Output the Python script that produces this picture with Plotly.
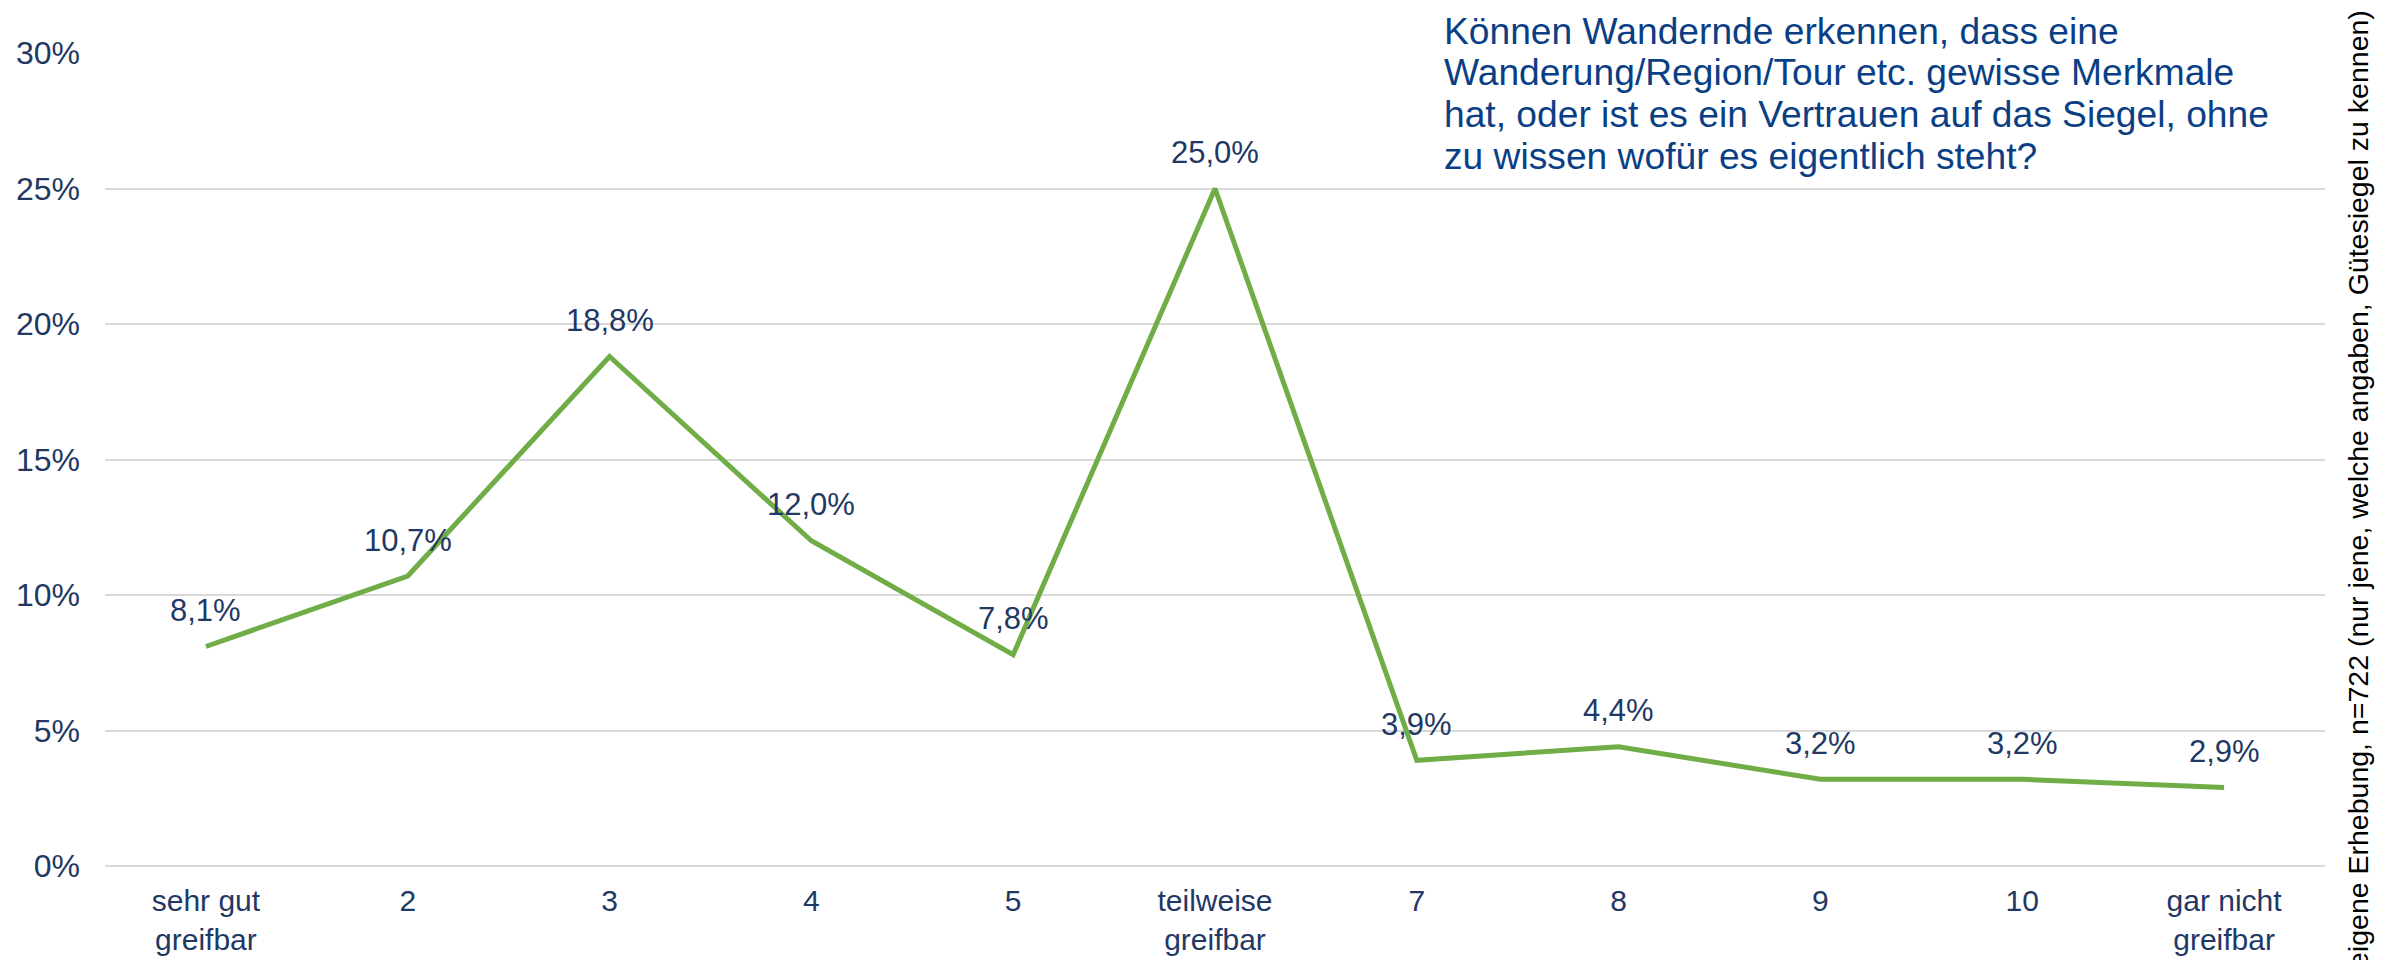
import plotly.graph_objects as go

categories = ["sehr gut<br>greifbar", "2", "3", "4", "5", "teilweise<br>greifbar",
              "7", "8", "9", "10", "gar nicht<br>greifbar"]
values = [8.1, 10.7, 18.8, 12.0, 7.8, 25.0, 3.9, 4.4, 3.2, 3.2, 2.9]
y_ticks = [0, 5, 10, 15, 20, 25, 30]

title_lines = ["Können Wandernde erkennen, dass eine",
               "Wanderung/Region/Tour etc. gewisse Merkmale",
               "hat, oder ist es ein Vertrauen auf das Siegel, ohne",
               "zu wissen wofür es eigentlich steht?"]
source_text = "eigene Erhebung, n=722 (nur jene, welche angaben, Gütesiegel zu kennen)"

W, H = 2399, 960
OFF = 8  # page body margin
L, R, T, B = 97, 82, 45, 102
pw, ph = W - L - R, H - T - B

TEXT = "#1F3864"
FONT = "Liberation Sans, Arial"
idx = list(range(len(categories)))

fig = go.Figure()
fig.add_trace(go.Scatter(
    x=idx, y=values, mode="lines",
    line=dict(color="#70AD47", width=5),
    hoverinfo="skip", showlegend=False,
))

for i, v in zip(idx, values):
    fig.add_annotation(x=i, y=v, text=f"{v:.1f}".replace(".", ",") + "%",
                       showarrow=False, yshift=36,
                       font=dict(size=31, color=TEXT, family=FONT))

def px_x(p):
    return (p - OFF - L) / pw

def px_y(p):
    return (OFF + H - B - p) / ph

# white box behind title (covers top gridline)
fig.add_shape(type="rect", xref="paper", yref="paper",
              x0=px_x(1423), x1=px_x(2335), y0=px_y(180), y1=px_y(0),
              fillcolor="white", line=dict(width=0), layer="above")

line_centers = [31, 72, 114, 156]
for txt, yc in zip(title_lines, line_centers):
    fig.add_annotation(xref="paper", yref="paper", x=px_x(1442), y=px_y(yc),
                       xanchor="left", yanchor="middle", align="left",
                       text=txt, showarrow=False,
                       font=dict(size=37.2, color="#0B3F85", family=FONT))

fig.add_annotation(xref="paper", yref="paper", x=px_x(2358), y=px_y(8),
                   xanchor="center", yanchor="top", textangle=-90,
                   text=source_text, showarrow=False,
                   font=dict(size=28.5, color="#000000", family=FONT))

fig.update_layout(
    width=W, height=H,
    margin=dict(l=L, r=R, t=T, b=B, autoexpand=False),
    paper_bgcolor="white", plot_bgcolor="white",
    font=dict(family=FONT, color=TEXT, size=30),
)
fig.update_xaxes(
    range=[-0.5, len(categories) - 0.5],
    tickmode="array", tickvals=idx, ticktext=categories,
    showgrid=False, showline=False, zeroline=False, ticks="",
    tickfont=dict(size=30, color=TEXT), ticklabelstandoff=14,
    automargin=False,
)
fig.update_yaxes(
    range=[0, 30], tickvals=y_ticks, ticktext=[f"{t}%" for t in y_ticks],
    showgrid=True, gridcolor="#D9D9D9", gridwidth=2,
    zeroline=True, zerolinecolor="#D9D9D9", zerolinewidth=2,
    showline=False, ticks="", tickfont=dict(size=32, color=TEXT),
    ticklabelstandoff=24, automargin=False,
)

fig.write_html("out.html")
